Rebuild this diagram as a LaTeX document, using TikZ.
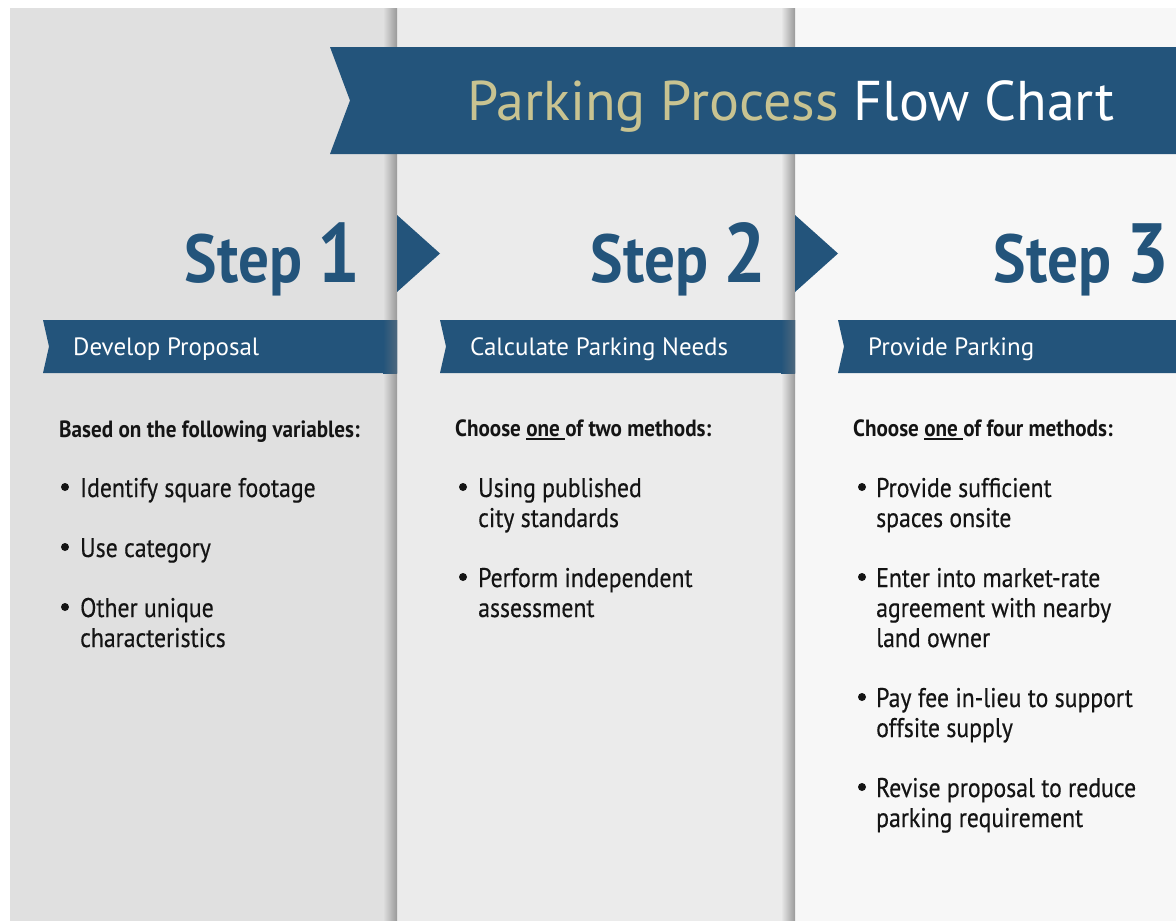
\documentclass[tikz,border=0pt]{standalone}
\usepackage{fontspec}
\setmainfont{PT Sans}[FakeStretch=0.9]
\newfontfamily\widefont{PT Sans}
\newfontfamily\bodyfont{PT Sans}[FakeStretch=0.88, FakeBold=0.4]
\usetikzlibrary{positioning}

\definecolor{navy}{HTML}{23547B}
\definecolor{khaki}{HTML}{C8C391}
\definecolor{ink}{HTML}{141414}
\definecolor{paneA}{HTML}{E0E0E0}
\definecolor{paneB}{HTML}{EBEBEB}
\definecolor{paneC}{HTML}{F7F7F7}

\newcommand{\lineunder}[1]{\setbox0\hbox{#1}\rlap{\rule[-3.5pt]{\wd0}{1.4pt}}\box0}
\newcommand{\lines}[1]{\begin{tabular}[t]{@{}l@{}}#1\end{tabular}}

\tikzset{
  steplabel/.style={anchor=base east, inner sep=0pt, text=navy},
  bartext/.style={anchor=base west, inner sep=0pt, text=white, font=\widefont\fontsize{25}{28}\selectfont},
  lead/.style={anchor=base west, inner sep=0pt, text=ink, font=\bfseries\fontsize{23.5}{27}\selectfont},
  point/.style={anchor=base west, inner sep=0pt, text=ink, font=\bodyfont\fontsize{27}{30}\selectfont},
}

\begin{document}
\begin{tikzpicture}[x=1pt, y=-1pt]
    \useasboundingbox (0,0) rectangle (1176,921);
    \fill [white]    (0,0) rectangle (1176,921);
    % panels
    \fill [paneA]    (10,8) rectangle (397,921);
    \fill [paneB]    (397,8) rectangle (795,921);
    \fill [paneC]    (795,8) rectangle (1176,921);
    \shade [left color=paneA, right color=black!40] (383,8) rectangle (397,921);
    \shade [left color=paneB, right color=black!40] (781,8) rectangle (795,921);
    % title
    \fill [navy]     (330,47) -- (1176,47) -- (1176,154) -- (330,154) -- (350,100.5) -- cycle;
    \node (title) [anchor=base west, inner sep=0pt, font=\widefont\fontsize{56}{60}\selectfont]
                     at (467,120) {\textcolor{khaki}{Parking Process} \textcolor{white}{Flow Chart}};
    % arrows
    \fill [navy]     (397,215) -- (440,253.5) -- (397,292) -- cycle;
    \fill [navy]     (795,215) -- (838,253.5) -- (795,292) -- cycle;
    % Step 1
    \node (step1) [steplabel] at (361,282) {\fontsize{68}{70}\selectfont\bfseries Step \fontsize{84}{84}\selectfont 1};
    \fill [navy]     (43,320) -- (397,320) -- (397,373) -- (43,373) -- (49,346.5) -- cycle;
    \shade [left color=navy, right color=navy!55!gray] (383,320) rectangle (397,373);
    \node (bar1) [bartext] at (73,355) {Develop Proposal};
    \node (lead1) [lead] at (59,437) {Based on the following variables:};
    \node (p11) [point] at (80,497) {Identify square footage};
    \node (p12) [point] at (80,557) {Use category};
    \node (p13) [point] at (80,617) {\lines{Other unique\\characteristics}};
    \fill [ink]      ([shift={(-15,-10)}]p11.base west) circle (4);
    \fill [ink]      ([shift={(-15,-10)}]p12.base west) circle (4);
    \fill [ink]      ([shift={(-15,-10)}]p13.base west) circle (4);
    % Step 2
    \node (step2) [steplabel] at (767,282) {\fontsize{68}{70}\selectfont\bfseries Step \fontsize{84}{84}\selectfont 2};
    \fill [navy]     (440,320) -- (795,320) -- (795,373) -- (440,373) -- (446,346.5) -- cycle;
    \shade [left color=navy, right color=navy!55!gray] (781,320) rectangle (795,373);
    \node (bar2) [bartext] at (470,355) {Calculate Parking Needs};
    \node (lead2) [lead] at (455,436) {Choose \lineunder{one }of two methods:};
    \node (p21) [point] at (478,497) {\lines{Using published\\city standards}};
    \node (p22) [point] at (478,587) {\lines{Perform independent\\assessment}};
    \fill [ink]      ([shift={(-15,-10)}]p21.base west) circle (4);
    \fill [ink]      ([shift={(-15,-10)}]p22.base west) circle (4);
    % Step 3
    \node (step3) [steplabel] at (1170,282) {\fontsize{68}{70}\selectfont\bfseries Step \fontsize{84}{84}\selectfont 3};
    \fill [navy]     (838,320) -- (1176,320) -- (1176,373) -- (838,373) -- (844,346.5) -- cycle;
    \node (bar3) [bartext] at (868,355) {Provide Parking};
    \node (lead3) [lead] at (853,436) {Choose \lineunder{one }of four methods:};
    \node (p31) [point] at (876,497) {\lines{Provide sufficient\\spaces onsite}};
    \node (p32) [point] at (876,587) {\lines{Enter into market-rate\\agreement with nearby\\land owner}};
    \node (p33) [point] at (876,707) {\lines{Pay fee in-lieu to support\\offsite supply}};
    \node (p34) [point] at (876,797) {\lines{Revise proposal to reduce\\parking requirement}};
    \fill [ink]      ([shift={(-14,-10)}]p31.base west) circle (4);
    \fill [ink]      ([shift={(-14,-10)}]p32.base west) circle (4);
    \fill [ink]      ([shift={(-14,-10)}]p33.base west) circle (4);
    \fill [ink]      ([shift={(-14,-10)}]p34.base west) circle (4);
  \end{tikzpicture}
\end{document}
